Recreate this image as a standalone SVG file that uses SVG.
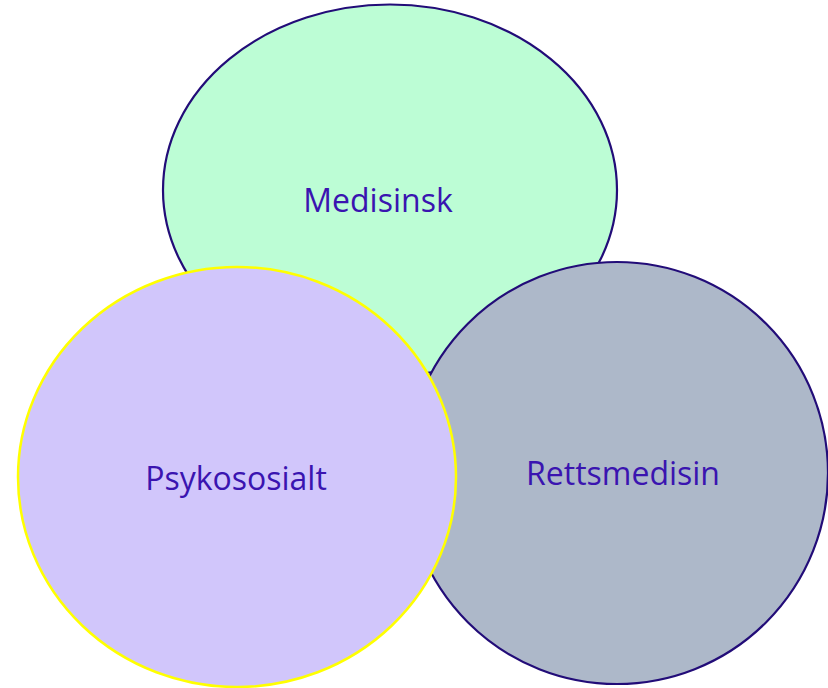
<svg xmlns="http://www.w3.org/2000/svg" width="828" height="688" viewBox="0 0 828 688">
<style>
.lbl{font-family:"Open Sans","Liberation Sans",sans-serif;font-size:32px;fill:#3a14b0;text-anchor:middle}
.dark{stroke:#220c78;stroke-width:2.2}
</style>
<rect width="828" height="688" fill="#ffffff"/>
<g id="medisinsk">
<ellipse cx="390" cy="190" rx="227" ry="185.5" fill="#bcfdd5" class="dark"/>
</g>
<g id="rettsmedisin">
<ellipse cx="617" cy="473" rx="211" ry="211" fill="#adb8c9" class="dark"/>
</g>
<g id="psykososialt">
<ellipse cx="237" cy="477" rx="219" ry="210" fill="#d1c6fb" stroke="#ffff00" stroke-width="2.5"/>
</g>
<g id="labels">
<text class="lbl" x="378" y="212">Medisinsk</text>
<text class="lbl" x="236" y="490">Psykososialt</text>
<text class="lbl" x="623" y="485">Rettsmedisin</text>
</g>
<g id="connectors"/>
</svg>
